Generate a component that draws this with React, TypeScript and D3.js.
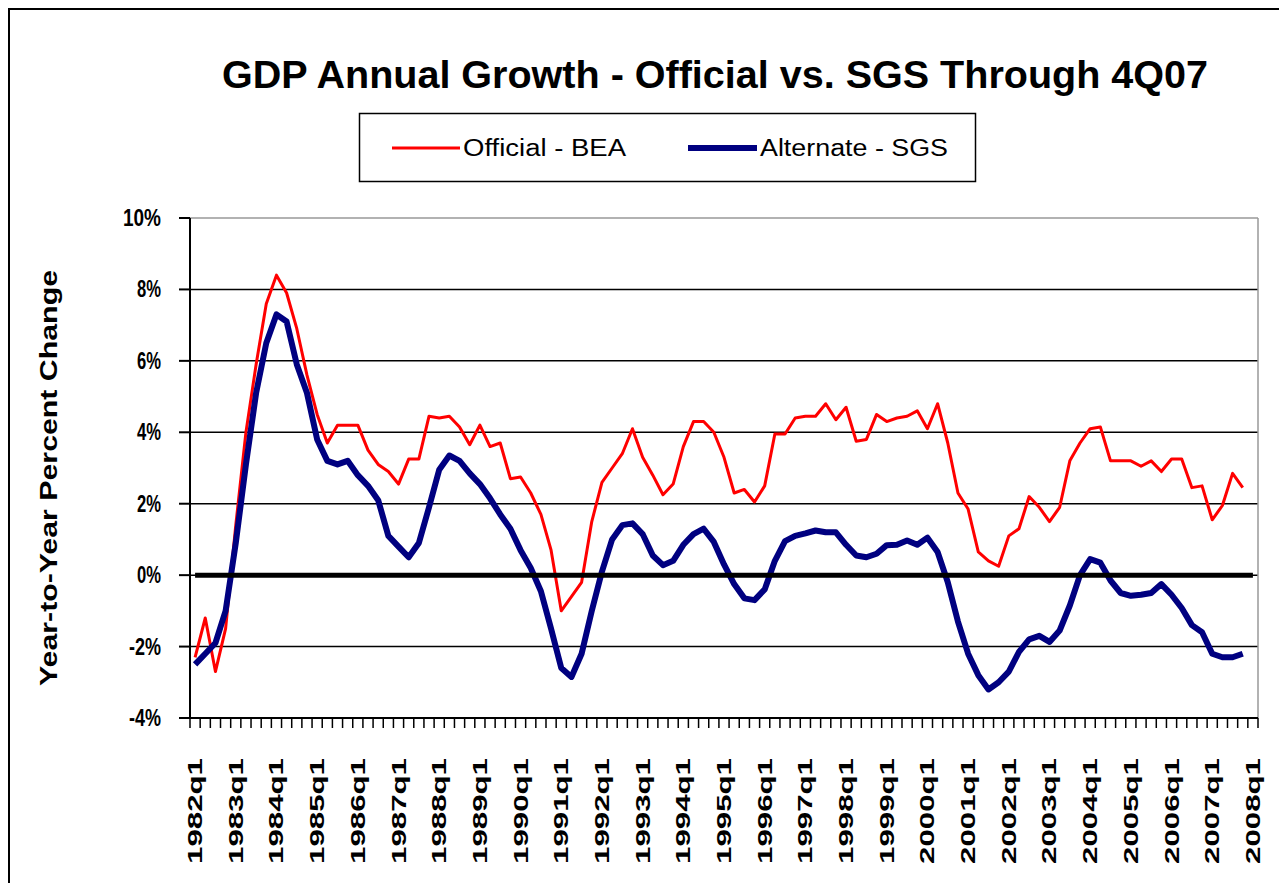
import React from 'react';
import * as d3 from 'd3';

// quarterly labels 1982q1 .. 2008q1 (last category holds no data)
const years = d3.range(1982, 2009);
const quarters = years.flatMap((y) => [1, 2, 3, 4].map((q) => `${y}q${q}`)).filter((q, i) => i <= 104);
const tickLabels = years.map((y) => `${y}q1`);

const official = [
  -2.3, -1.2, -2.7, -1.5, 1.4, 4.0, 5.9, 7.6, 8.4, 7.9, 6.9, 5.6, 4.5, 3.7, 4.2, 4.2,
  4.2, 3.5, 3.1, 2.9, 2.55, 3.25, 3.25, 4.45, 4.4, 4.45, 4.15, 3.65, 4.2, 3.6, 3.7, 2.7,
  2.75, 2.3, 1.7, 0.7, -1.0, -0.6, -0.2, 1.5, 2.6, 3.0, 3.4, 4.1, 3.3, 2.8, 2.25, 2.55,
  3.6, 4.3, 4.3, 4.0, 3.3, 2.3, 2.4, 2.05, 2.5, 3.95, 3.95, 4.4, 4.45, 4.45, 4.8, 4.35,
  4.7, 3.75, 3.8, 4.5, 4.3, 4.4, 4.45, 4.6, 4.1, 4.8, 3.7, 2.3, 1.85, 0.65, 0.4, 0.25,
  1.1, 1.3, 2.2, 1.9, 1.5, 1.9, 3.2, 3.7, 4.1, 4.15, 3.2, 3.2, 3.2, 3.05, 3.2, 2.9,
  3.25, 3.25, 2.45, 2.5, 1.55, 1.95, 2.85, 2.45,
];

const alternate = [
  -2.5, -2.2, -1.9, -1.0, 0.9, 3.1, 5.1, 6.5, 7.3, 7.1, 5.9, 5.1, 3.8, 3.2, 3.1, 3.2,
  2.8, 2.5, 2.1, 1.1, 0.8, 0.5, 0.9, 1.9, 2.95, 3.35, 3.2, 2.85, 2.55, 2.15, 1.7, 1.3,
  0.7, 0.2, -0.45, -1.5, -2.6, -2.85, -2.2, -1.0, 0.1, 1.0, 1.4, 1.45, 1.15, 0.55, 0.28, 0.4,
  0.85, 1.15, 1.3, 0.93, 0.3, -0.25, -0.65, -0.7, -0.4, 0.4, 0.95, 1.1, 1.17, 1.25, 1.2, 1.2,
  0.85, 0.55, 0.5, 0.6, 0.84, 0.85, 0.97, 0.85, 1.05, 0.65, -0.2, -1.3, -2.2, -2.8, -3.2, -3.0,
  -2.7, -2.15, -1.8, -1.7, -1.87, -1.55, -0.85, 0.0, 0.45, 0.35, -0.15, -0.5, -0.58, -0.55, -0.5, -0.25,
  -0.55, -0.92, -1.4, -1.6, -2.2, -2.3, -2.3, -2.2,
];

const yTicks = [-4, -2, 0, 2, 4, 6, 8, 10];

const W = 1279;
const H = 883;
const plot = { left: 190, right: 1258, top: 218, bottom: 718 };
const font = '"Liberation Sans", Arial, sans-serif';

export default function App() {
  const x = d3.scaleBand().domain(quarters).range([plot.left, plot.right]).padding(0);
  const cx = (q: string) => (x(q) as number) + x.bandwidth() / 2;
  const y = d3.scaleLinear().domain([-4, 10]).range([plot.bottom, plot.top]);

  const line = d3
    .line<number>()
    .x((_, i) => cx(quarters[i]))
    .y((d) => y(d));

  const zero = quarters.map(() => 0);

  return (
    <svg width={W} height={H} style={{ position: 'absolute', left: 0, top: 0, background: '#fff' }}>
      <rect x={9} y={9} width={W + 20} height={H + 20} fill="none" stroke="#000" strokeWidth={2} />

      <text x={715} y={88} textAnchor="middle" fontFamily={font} fontWeight="bold" fontSize={39}
        textLength={986} lengthAdjust="spacingAndGlyphs">
        GDP Annual Growth - Official vs. SGS Through 4Q07
      </text>

      {/* legend */}
      <rect x={359.5} y={113.5} width={616} height={68} fill="#fff" stroke="#000" strokeWidth={1.5} />
      <line x1={392} x2={460} y1={148} y2={148} stroke="#ff0000" strokeWidth={3} />
      <text x={463} y={156} fontFamily={font} fontSize={23} textLength={163} lengthAdjust="spacingAndGlyphs">
        Official - BEA
      </text>
      <line x1={688} x2={757} y1={148} y2={148} stroke="#000080" strokeWidth={6} />
      <text x={760} y={156} fontFamily={font} fontSize={23} textLength={188} lengthAdjust="spacingAndGlyphs">
        Alternate - SGS
      </text>

      {/* grid */}
      {yTicks.map((t) => (
        <line key={t} x1={plot.left} x2={plot.right} y1={y(t)} y2={y(t)}
          stroke={t === 10 ? '#999' : '#000'} strokeWidth={1.5} />
      ))}
      <line x1={plot.right} x2={plot.right} y1={plot.top} y2={plot.bottom} stroke="#999" strokeWidth={1.5} />

      {/* axes */}
      <line x1={plot.left} x2={plot.left} y1={plot.top} y2={plot.bottom} stroke="#000" strokeWidth={2} />
      <line x1={plot.left} x2={plot.right} y1={plot.bottom} y2={plot.bottom} stroke="#000" strokeWidth={2} />
      {yTicks.map((t) => (
        <line key={'yt' + t} x1={plot.left - 11} x2={plot.left} y1={y(t)} y2={y(t)} stroke="#000" strokeWidth={2} />
      ))}
      {quarters.map((q) => (
        <line key={'xt' + q} x1={x(q)} x2={x(q)} y1={plot.bottom} y2={plot.bottom + 10} stroke="#000" strokeWidth={1.5} />
      ))}
      <line x1={plot.right} x2={plot.right} y1={plot.bottom} y2={plot.bottom + 10} stroke="#000" strokeWidth={1.5} />

      {yTicks.map((t) => (
        <text key={'yl' + t} x={161} y={y(t) + 8} textAnchor="end" fontFamily={font} fontWeight="bold" fontSize={23}
          textLength={t === 10 ? 38 : t < 0 ? 32 : 24} lengthAdjust="spacingAndGlyphs">
          {`${t}%`}
        </text>
      ))}

      {tickLabels.map((l) => (
        <text key={l} transform={`translate(${cx(l) + 7},${758}) rotate(-90)`} textAnchor="end"
          fontFamily={font} fontWeight="bold" fontSize={20} textLength={106} lengthAdjust="spacingAndGlyphs">
          {l}
        </text>
      ))}

      <text transform={`translate(57,${(270 + 686) / 2}) rotate(-90)`} textAnchor="middle" fontFamily={font}
        fontWeight="bold" fontSize={23} textLength={416} lengthAdjust="spacingAndGlyphs">
        Year-to-Year Percent Change
      </text>

      {/* series */}
      <path d={line(official) as string} fill="none" stroke="#ff0000" strokeWidth={3} strokeLinejoin="round" />
      <path d={line(alternate) as string} fill="none" stroke="#000080" strokeWidth={6} strokeLinejoin="round" />
      <path d={line(zero) as string} fill="none" stroke="#000" strokeWidth={5} />
    </svg>
  );
}
